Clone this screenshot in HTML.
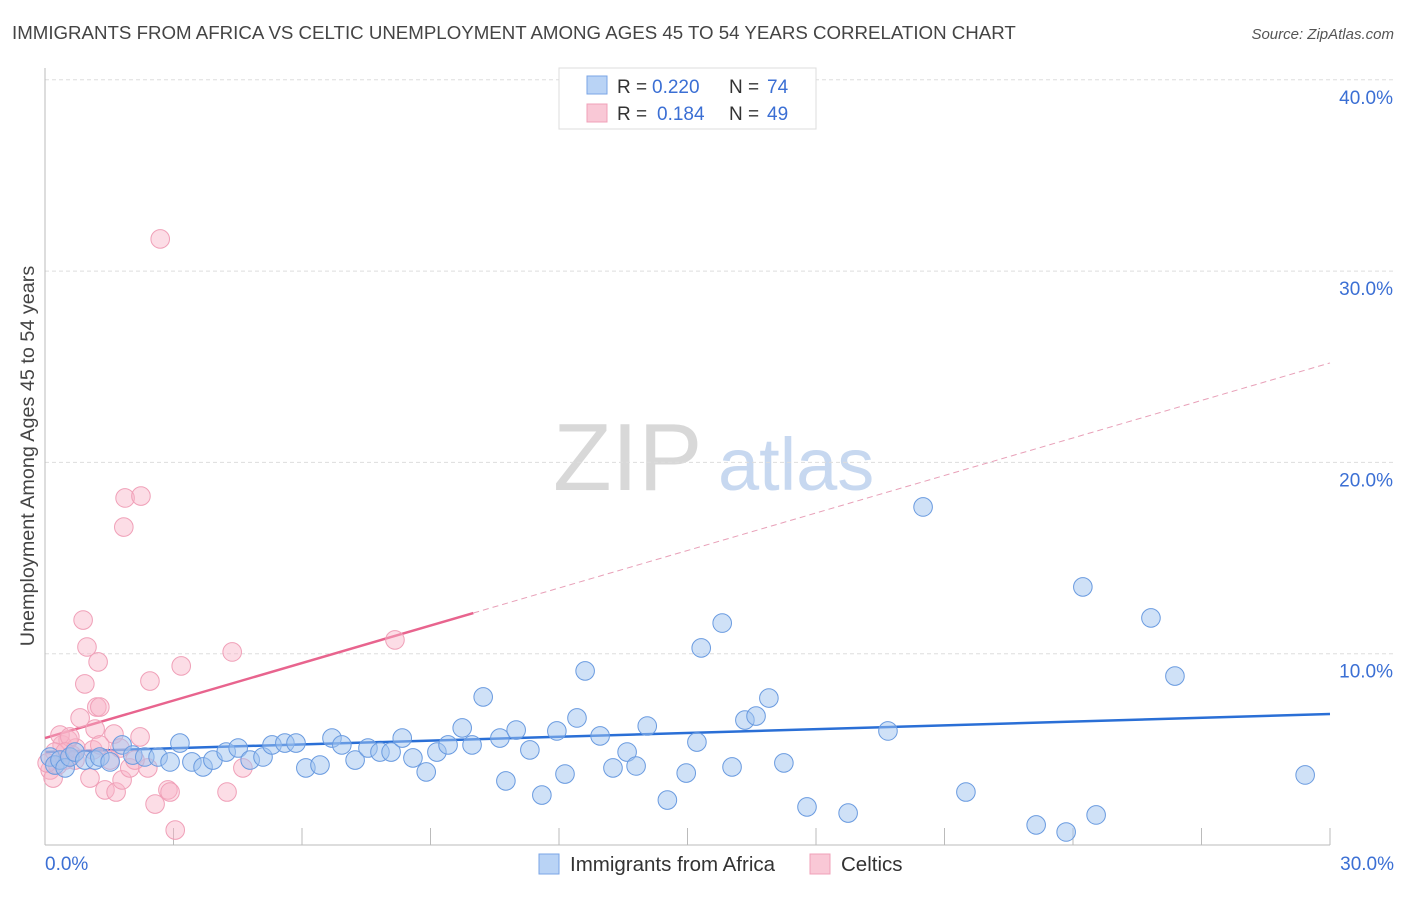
<!DOCTYPE html>
<html><head><meta charset="utf-8"><style>
body{margin:0;background:#fff;font-family:"Liberation Sans",sans-serif;}
svg text{font-family:"Liberation Sans",sans-serif;}
</style></head><body>
<svg id="chart" width="1406" height="892" xmlns="http://www.w3.org/2000/svg">
<text x="12" y="39" font-size="18.7" fill="#444">IMMIGRANTS FROM AFRICA VS CELTIC UNEMPLOYMENT AMONG AGES 45 TO 54 YEARS CORRELATION CHART</text>
<text x="1394" y="39" font-size="15" fill="#555" font-style="italic" text-anchor="end">Source: ZipAtlas.com</text>
<g>
<text x="553" y="490" font-size="96" fill="#d8d8d8" font-family="Liberation Serif,serif">ZIP</text>
<text x="718" y="490" font-size="74" fill="#c7d8f0">atlas</text>
</g>
<g id="grid"></g>
<g id="axes"></g>
<g id="lines"></g>
<g id="pts"></g>
<text transform="translate(34,456) rotate(-90)" font-size="19.8" fill="#444" text-anchor="middle">Unemployment Among Ages 45 to 54 years</text>
<g>
<rect x="559" y="68" width="257" height="61" fill="#fff" stroke="#ddd"/>
<rect x="587" y="76" width="20" height="18" fill="#b9d3f5" stroke="#7aa5e6"/>
<text x="617" y="93" font-size="19" fill="#333">R = </text><text x="652" y="93" font-size="19" fill="#3b6fd4">0.220</text>
<text x="729" y="93" font-size="19" fill="#333">N = </text><text x="767" y="93" font-size="19" fill="#3b6fd4">74</text>
<rect x="587" y="104" width="20" height="18" fill="#f9c8d6" stroke="#f0a0b8"/>
<text x="617" y="120" font-size="19" fill="#333">R = </text><text x="657" y="120" font-size="19" fill="#3b6fd4">0.184</text>
<text x="729" y="120" font-size="19" fill="#333">N = </text><text x="767" y="120" font-size="19" fill="#3b6fd4">49</text>
</g>
<g>
<rect x="539" y="854" width="20" height="20" fill="#b9d3f5" stroke="#7aa5e6"/>
<text x="570" y="871" font-size="20.5" fill="#333">Immigrants from Africa</text>
<rect x="810" y="854" width="20" height="20" fill="#f9c8d6" stroke="#f0a0b8"/>
<text x="841" y="871" font-size="20.5" fill="#333">Celtics</text>
</g>
</svg>
<script>
const blueX=[0.12,0.23,0.35,0.47,0.58,0.70,0.93,1.17,1.28,1.52,1.80,2.05,2.33,2.64,2.92,3.15,3.43,3.69,3.92,4.23,4.51,4.79,5.09,5.30,5.60,5.86,6.09,6.42,6.70,6.93,7.24,7.54,7.82,8.08,8.34,8.59,8.90,9.15,9.41,9.74,9.97,10.23,10.62,10.76,11.0,11.32,11.6,11.95,12.14,12.42,12.61,12.96,13.26,13.59,13.8,14.06,14.53,14.97,15.22,15.32,15.81,16.04,16.34,16.6,16.9,17.25,17.79,18.75,19.68,20.5,21.5,23.14,23.84,24.23,24.54,25.82,26.38,29.42];
const blueY=[4.6,4.18,4.44,4.03,4.6,4.86,4.44,4.44,4.6,4.34,5.23,4.7,4.6,4.6,4.34,5.33,4.34,4.08,4.44,4.86,5.07,4.44,4.6,5.23,5.33,5.33,4.03,4.18,5.59,5.23,4.44,5.07,4.86,4.86,5.59,4.55,3.82,4.86,5.23,6.12,5.23,7.74,5.59,3.35,6.01,4.97,2.61,5.96,3.71,6.64,9.1,5.7,4.03,4.86,4.13,6.22,2.35,3.76,5.38,10.3,11.6,4.08,6.53,6.74,7.68,4.29,1.99,1.67,5.96,17.67,2.77,1.05,0.68,13.49,1.57,11.87,8.83,3.66];
const pinkX=[0.12,0.19,0.3,0.4,0.47,0.54,0.63,0.72,0.82,0.89,0.93,0.98,1.05,1.12,1.17,1.21,1.24,1.28,1.4,1.52,1.61,1.66,1.75,1.8,1.84,1.87,1.98,2.22,2.24,2.4,2.45,2.57,2.69,2.87,2.92,3.04,3.18,4.25,4.37,4.62,8.17,0.35,0.58,0.23,0.05,0.47,0.7,1.28,2.1];
const pinkY=[3.92,3.5,4.18,5.23,4.44,5.49,4.7,5.07,6.64,11.76,8.42,10.35,3.5,4.97,6.06,7.21,9.57,7.21,2.88,4.44,5.8,2.77,5.07,3.4,16.62,18.14,4.03,5.65,18.24,4.03,8.57,2.14,31.68,2.88,2.77,0.78,9.36,2.77,10.09,4.03,10.72,5.75,5.65,4.86,4.29,4.86,4.44,5.23,4.44];
const yTicks=[10,20,30,40];
const blueTrend=[4.86,6.85];
const pinkTrend=[5.59,25.2];
const pinkSolidEnd=10;
const X0=45,X1=1330,Y0=845,PPY=19.13;
const sx=v=>X0+(X1-X0)*v/30, sy=v=>Y0-v*PPY;
const NS="http://www.w3.org/2000/svg";
function mk(tag,attrs,parent){const e=document.createElementNS(NS,tag);for(const k in attrs)e.setAttribute(k,attrs[k]);document.getElementById(parent).appendChild(e);return e;}
yTicks.forEach(t=>{
 const l=mk('line',{x1:X0,x2:1395,y1:sy(t),y2:sy(t),stroke:'#ddd','stroke-dasharray':'4,3'},'grid');
 
 
 const tx=mk('text',{x:1393,y:sy(t)+24,'font-size':19,fill:'#3b6fd4','text-anchor':'end'},'grid');
 tx.textContent=t.toFixed(1)+'%';
 
 
});
let ax=mk('line',{x1:X0,x2:X0,y1:68,y2:Y0,stroke:'#bbb'},'axes');


ax=mk('line',{x1:X0,x2:X1,y1:Y0,y2:Y0,stroke:'#bbb'},'axes');


for(let i=1;i<=10;i++){const x=sx(i*3);const t=mk('line',{x1:x,x2:x,y1:828,y2:Y0,stroke:'#bbb'},'axes');
 
 }
[[0,'0.0%',X0,'start'],[30,'30.0%',1394,'end']].forEach(a=>{const t=mk('text',{x:a[2],y:870,'font-size':19,fill:'#3b6fd4','text-anchor':a[3]},'axes');t.textContent=a[1];
 
 });
pinkX.forEach((x,i)=>{const c=mk('circle',{cx:sx(x),cy:sy(pinkY[i]),r:9.3,fill:'rgba(248,180,200,0.45)',stroke:'#f0a0b8','stroke-width':1},'pts');
 
 });
blueX.forEach((x,i)=>{const c=mk('circle',{cx:sx(x),cy:sy(blueY[i]),r:9.3,fill:'rgba(160,196,240,0.5)',stroke:'#6a9be0','stroke-width':1},'pts');
 
 });
const pAt=x=>pinkTrend[0]+(pinkTrend[1]-pinkTrend[0])*x/30;
let l=mk('line',{x1:sx(0),y1:sy(blueTrend[0]),x2:sx(30),y2:sy(blueTrend[1]),stroke:'#2a6fd6','stroke-width':2.5},'lines');


l=mk('line',{x1:sx(0),y1:sy(pAt(0)),x2:sx(pinkSolidEnd),y2:sy(pAt(pinkSolidEnd)),stroke:'#e8648e','stroke-width':2.5},'lines');


l=mk('line',{x1:sx(pinkSolidEnd),y1:sy(pAt(pinkSolidEnd)),x2:sx(30),y2:sy(pAt(30)),stroke:'#e8a0b8','stroke-width':1,'stroke-dasharray':'6,4'},'lines');


</script>
</body></html>
